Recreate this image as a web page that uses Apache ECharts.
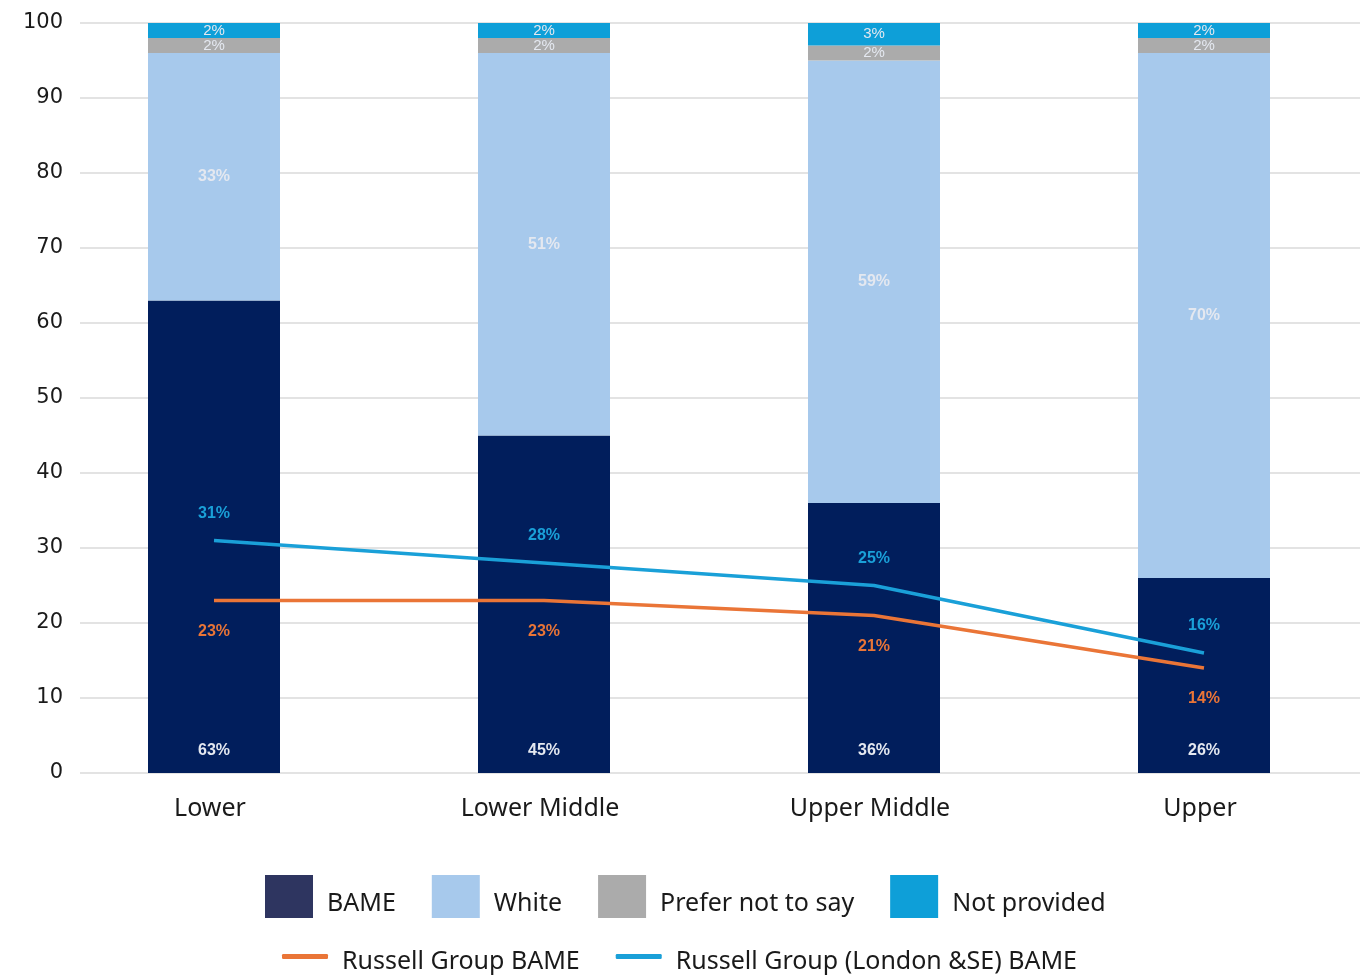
<!DOCTYPE html>
<html>
<head>
<meta charset="utf-8">
<style>
  html, body { margin: 0; padding: 0; background: #ffffff; overflow: hidden; }
  #chart { width: 1371px; height: 978px; }
</style>
<script src="https://cdn.jsdelivr.net/npm/echarts@6/dist/echarts.min.js"></script>
</head>
<body>
<div id="chart"></div>
<script>
// Pay quartile bands
const categories = ['Lower', 'Lower Middle', 'Upper Middle', 'Upper'];

// Share of staff by ethnicity in each quartile (%)
const bame = [63, 45, 36, 26];
const white = [33, 51, 59, 70];
const preferNotToSay = [2, 2, 2, 2];
const notProvided = [2, 2, 3, 2];

// Benchmark BAME shares (%)
const russellGroupBame = [23, 23, 21, 14];
const russellLondonSeBame = [31, 28, 25, 16];

const yTicks = { min: 0, max: 100, interval: 10 };

const C = {
  bame: '#011E5C',
  bameKey: '#2E3560',
  white: '#A7C9EC',
  prefer: '#ABABAB',
  notProvided: '#0E9FD8',
  rg: '#EA7537',
  rgLondon: '#1AA0D8'
};

const chart = echarts.init(document.getElementById('chart'));

const barLabel = {
  show: true,
  position: 'inside',
  formatter: '{c}%',
  color: '#E4E8F0',
  fontFamily: 'Liberation Sans',
  fontWeight: 'bold',
  fontSize: 16
};

function barSeries(name, data, color, label) {
  return {
    name: name,
    type: 'bar',
    stack: 'total',
    xAxisIndex: 1,
    yAxisIndex: 1,
    barWidth: 132,
    data: data,
    itemStyle: { color: color },
    label: Object.assign({}, barLabel, label || {}),
    emphasis: { disabled: true }
  };
}

function lineSeries(name, data, color, pos, dist) {
  return {
    name: name,
    type: 'line',
    xAxisIndex: 1,
    yAxisIndex: 1,
    data: data,
    z: 5,
    symbol: 'circle',
    symbolSize: 0.1,
    showSymbol: true,
    lineStyle: { color: color, width: 3.5 },
    itemStyle: { color: color },
    label: {
      show: true,
      position: pos,
      distance: dist,
      formatter: '{c}%',
      color: color,
      fontFamily: 'Liberation Sans',
      fontWeight: 'bold',
      fontSize: 16
    },
    emphasis: { disabled: true }
  };
}

function legendText(padTop) {
  return {
    fontSize: 25, color: '#1a1a1a', fontFamily: 'Noto Sans', padding: [0, 0, 0, 9],
    rich: { t: { fontSize: 25, color: '#1a1a1a', fontFamily: 'Noto Sans', padding: [padTop, 0, 0, 0] } }
  };
}

const option = {
  animation: false,
  backgroundColor: '#ffffff',
  grid: [
    // gridlines and value labels
    { left: 80, right: 11, top: 23, bottom: 205 },
    // bars and lines
    { left: 49, right: 2, top: 23, bottom: 205 }
  ],
  xAxis: [
    {
      type: 'category', gridIndex: 0, data: categories,
      axisLine: { show: false }, axisTick: { show: false }, axisLabel: { show: false }
    },
    {
      type: 'category', gridIndex: 1, data: categories,
      axisLine: { show: false }, axisTick: { show: false },
      axisLabel: {
        margin: 23, color: '#1a1a1a', fontSize: 25, fontFamily: 'Noto Sans',
        padding: [0, 8, 0, 0]
      }
    }
  ],
  yAxis: [
    {
      type: 'value', gridIndex: 0,
      min: yTicks.min, max: yTicks.max, interval: yTicks.interval,
      axisLine: { show: false }, axisTick: { show: false },
      axisLabel: { margin: 17, color: '#1a1a1a', fontSize: 21, fontFamily: 'DejaVu Sans' },
      splitLine: { lineStyle: { color: '#E3E3E3', width: 2 } }
    },
    {
      type: 'value', gridIndex: 1,
      min: yTicks.min, max: yTicks.max, interval: yTicks.interval,
      show: false, splitLine: { show: false }
    }
  ],
  legend: [
    {
      left: 265, top: 875, padding: 0,
      itemWidth: 48, itemHeight: 43, itemGap: 36,
      icon: 'rect',
      formatter: '{t|{name}}',
      textStyle: legendText(14),
      data: [
        { name: 'BAME', itemStyle: { color: C.bameKey } },
        'White', 'Prefer not to say', 'Not provided'
      ]
    },
    {
      left: 282, top: 949, padding: 0,
      itemWidth: 46, itemHeight: 5, itemGap: 36,
      icon: 'roundRect',
      formatter: '{t|{name}}',
      textStyle: legendText(10),
      data: ['Russell Group BAME', 'Russell Group (London &SE) BAME']
    }
  ],
  series: [
    barSeries('BAME', bame, C.bame, { position: 'insideBottom', distance: 14 }),
    barSeries('White', white, C.white),
    barSeries('Prefer not to say', preferNotToSay, C.prefer, { fontSize: 15, fontWeight: 'normal' }),
    barSeries('Not provided', notProvided, C.notProvided, { fontSize: 15, fontWeight: 'normal' }),
    lineSeries('Russell Group BAME', russellGroupBame, C.rg, 'bottom', 23),
    lineSeries('Russell Group (London &SE) BAME', russellLondonSeBame, C.rgLondon, 'top', 19)
  ]
};

chart.setOption(option);
</script>
</body>
</html>
